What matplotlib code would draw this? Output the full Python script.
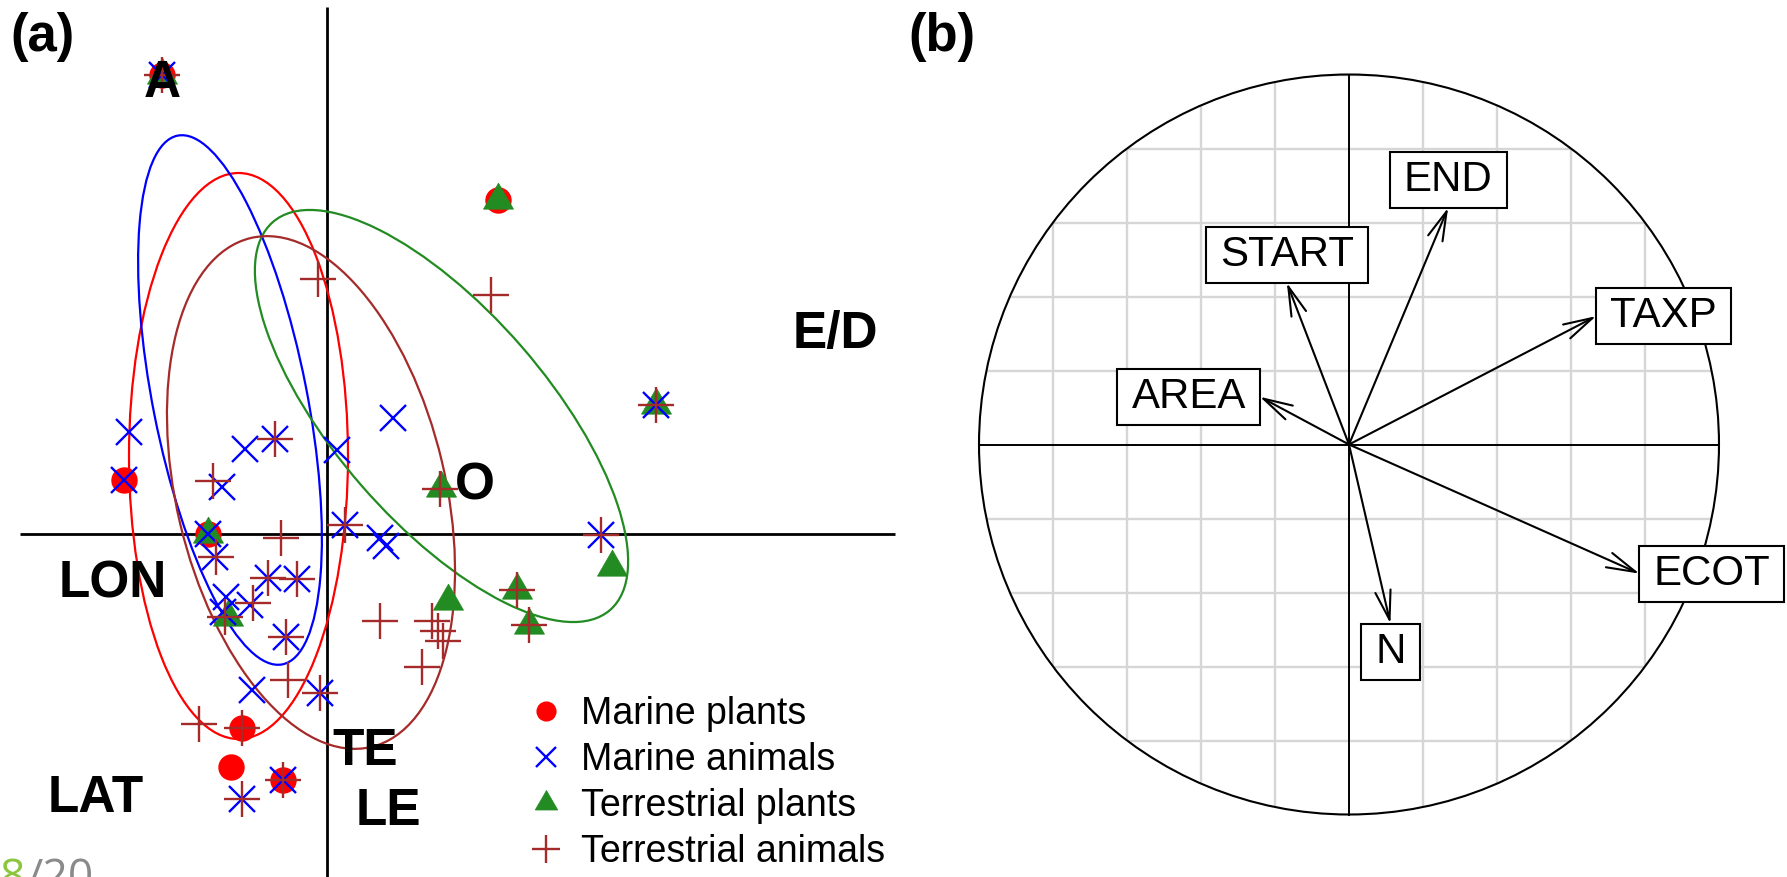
import numpy as np
import matplotlib
matplotlib.use("Agg")
import matplotlib.pyplot as plt
from matplotlib.patches import Ellipse, Circle
from matplotlib.path import Path

plt.rcParams['font.family'] = ['Liberation Sans', 'DejaVu Sans']

# ---------------- (a) group scores on the first factorial plane ----------------
groups = ["Marine plants", "Marine animals", "Terrestrial plants", "Terrestrial animals"]

marine_plants_x = [-1.65, 1.71, -2.03, -1.19, -0.85, -0.96, -0.44]
marine_plants_y = [4.59, 3.34, 0.54, 0.00, -1.94, -2.33, -2.46]

marine_animals_x = [-1.65, 3.29, 0.66, -1.98, -0.82, -0.52, 0.10, -2.03, -1.05, -1.19,
                    -1.12, -0.59, -0.30, -1.01, -0.77, -1.04, -0.41, -0.75, -0.07, -0.44,
                    -0.85, 0.18, 0.53, 0.59, 2.74]
marine_animals_y = [4.59, 1.29, 1.16, 1.02, 0.85, 0.95, 0.84, 0.54, 0.47, 0.00,
                    -0.23, -0.44, -0.45, -0.63, -0.71, -0.78, -1.03, -1.56, -1.59, -2.46,
                    -2.65, 0.09, -0.04, -0.12, -0.01]

terr_plants_x = [-1.65, 1.71, 3.29, -1.19, -0.99, 1.14, 1.21, 2.85, 1.90, 2.02]
terr_plants_y = [4.59, 3.34, 1.29, 0.00, -0.83, 0.46, -0.67, -0.33, -0.56, -0.91]

terr_animals_x = [-1.65, -0.09, 1.64, 3.29, -0.52, -1.14, -0.46, -1.11, -0.59, -0.30,
                  -0.74, -1.02, -0.41, -0.39, -0.07, -1.28, -0.85, -0.44, -0.85, 0.18,
                  1.13, 2.74, 0.53, 1.05, 1.11, 1.16, 0.95, 1.90, 2.02]
terr_animals_y = [4.59, 2.55, 2.39, 1.29, 0.95, 0.53, -0.04, -0.23, -0.44, -0.45,
                  -0.69, -0.83, -1.03, -1.46, -1.59, -1.90, -1.94, -2.46, -2.65, 0.09,
                  0.45, -0.01, -0.87, -0.87, -0.97, -1.07, -1.33, -0.56, -0.91]

# inertia ellipses per group: centre, full axes lengths, orientation (deg)
ell_cx = [-0.885, -0.97, 1.145, -0.16]
ell_cy = [0.78, 1.34, 1.18, 0.415]
ell_major = [5.66, 5.39, 5.14, 5.23]
ell_minor = [2.19, 1.54, 2.12, 2.69]
ell_angle = [90.0, 101.2, 131.0, 103.3]

# modalities of the explanatory variables
modality_labels = ["A", "E/D", "O", "LON", "LAT", "TE", "LE"]
modality_x = [-1.65, 5.08, 1.48, -2.14, -2.31, 0.38, 0.61]
modality_y = [4.37, 1.86, 0.34, -0.63, -2.78, -2.31, -2.91]

# ---------------- (b) correlation circle ----------------
var_names = ["AREA", "START", "END", "TAXP", "ECOT", "N"]
var_x = [-0.241, -0.168, 0.268, 0.668, 0.785, 0.112]
var_y = [0.129, 0.437, 0.640, 0.347, -0.349, -0.484]

W, H, DPI = 1787, 877, 100
fig = plt.figure(figsize=(W / DPI, H / DPI), dpi=DPI)
fig.patch.set_facecolor("white")

# ---------- panel (a) ----------
ax = fig.add_axes([0, 0, 900 / W, 1])
ax.set_xlim(-3.27, 5.73)
ax.set_ylim(-3.43, 5.34)
ax.axis("off")

ax.plot([-3.07, 5.68], [0, 0], color="black", lw=2.0, zorder=1, solid_capstyle="butt")
ax.plot([0, 0], [-3.6, 5.27], color="black", lw=2.0, zorder=1, solid_capstyle="butt")

colors = ["#FF0000", "#0000FF", "#228B22", "#A52A2A"]
for cx, cy, a, b, ang, col in zip(ell_cx, ell_cy, ell_major, ell_minor, ell_angle, colors):
    ax.add_patch(Ellipse((cx, cy), a, b, angle=ang, fill=False, ec=col, lw=1.6, zorder=2))

h_mp, = ax.plot(marine_plants_x, marine_plants_y, ls="none", marker="o", ms=18,
                color=colors[0], mec=colors[0], zorder=3)
h_tp, = ax.plot(terr_plants_x, terr_plants_y, ls="none", marker=(3, 0, 0), ms=25,
                color=colors[2], mec=colors[2], mew=0.5, zorder=4)
h_ma, = ax.plot(marine_animals_x, marine_animals_y, ls="none", marker="x", ms=19,
                mew=1.7, color=colors[1], zorder=5)
h_ta, = ax.plot(terr_animals_x, terr_animals_y, ls="none", marker="+", ms=26,
                mew=1.7, color=colors[3], zorder=6)

for lab, x, y in zip(modality_labels, modality_x, modality_y):
    ax.text(x, y, lab, ha="center", va="baseline", fontsize=37, fontweight="bold",
            color="black", zorder=8)

ax.legend([h_mp, h_ma, h_tp, h_ta], groups, loc="upper left",
          bbox_to_anchor=(528 / W, 1 - 696 / H), bbox_transform=fig.transFigure,
          frameon=False, fontsize=27, markerscale=0.75, numpoints=1,
          handlelength=0.96, handletextpad=0.45, labelspacing=0.265,
          borderpad=0, borderaxespad=0)

# ---------- panel (b) ----------
R_PX = 370.0
CX, CY = 1349.0, 444.5
bx = fig.add_axes([900 / W, 0, 887 / W, 1])
bx.set_xlim((900 - CX) / R_PX, (W - CX) / R_PX)
bx.set_ylim((CY - H) / R_PX, CY / R_PX)
bx.axis("off")

clip_circle = Circle((0, 0), 1, transform=bx.transData)
for v in np.round(np.arange(-1.0, 1.01, 0.2), 2):
    if abs(v) < 1e-9:
        continue
    for xs, ys in (([v, v], [-1, 1]), ([-1, 1], [v, v])):
        ln, = bx.plot(xs, ys, color="#d6d6d6", lw=1.7, zorder=1)
        ln.set_clip_path(clip_circle)

bx.plot([-1, 1], [0, 0], color="black", lw=1.4, zorder=2)
bx.plot([0, 0], [-1, 1], color="black", lw=1.4, zorder=2)
bx.add_patch(Circle((0, 0), 1, fill=False, ec="black", lw=1.5, zorder=3))

for x, y in zip(var_x, var_y):
    bx.annotate("", xy=(x, y), xytext=(0, 0),
                arrowprops=dict(arrowstyle="->,head_length=1.05,head_width=0.28",
                                lw=1.5, color="black", shrinkA=0, shrinkB=0,
                                mutation_scale=20),
                zorder=4)

PADX, PADY = 0.333, 0.19


def label_box(x0, y0, width, height, mutation_size):
    px = PADX * mutation_size
    py = PADY * mutation_size
    x0, y0 = x0 - px, y0 - py
    x1, y1 = x0 + width + 2 * px, y0 + height + 2 * py
    return Path([(x0, y0), (x1, y0), (x1, y1), (x0, y1), (x0, y0)],
                [Path.MOVETO, Path.LINETO, Path.LINETO, Path.LINETO, Path.CLOSEPOLY])


FS_B = 30.24
fs_px = FS_B * DPI / 72.0
for name, x, y in zip(var_names, var_x, var_y):
    if abs(x) > abs(y):
        ha = "left" if x > 0 else "right"
        va = "center"
        off = (np.sign(x) * PADX * fs_px, 0)
    else:
        ha = "center"
        va = "bottom" if y > 0 else "top"
        off = (0, np.sign(y) * PADY * fs_px)
    bx.annotate(name, xy=(x, y), xytext=off, textcoords="offset pixels",
                ha=ha, va=va, fontsize=FS_B, color="black", zorder=6,
                bbox=dict(boxstyle=label_box, fc="white", ec="black", lw=1.5))

# ---------- panel tags and page number ----------
fig.text(10 / W, 1 - 51 / H, "(a)", fontsize=38, fontweight="bold", ha="left", va="baseline")
fig.text(908 / W, 1 - 51 / H, "(b)", fontsize=38, fontweight="bold", ha="left", va="baseline")

fig.text(0 / W, 1 - 890 / H, "8", fontsize=32, color="#8CC63F",
         family="Open Sans", ha="left", va="baseline")
fig.text(27 / W, 1 - 890 / H, "/20", fontsize=32, color="#8A8A8A",
         family="Open Sans", ha="left", va="baseline")

fig.savefig("out.png", dpi=DPI, facecolor="white")
